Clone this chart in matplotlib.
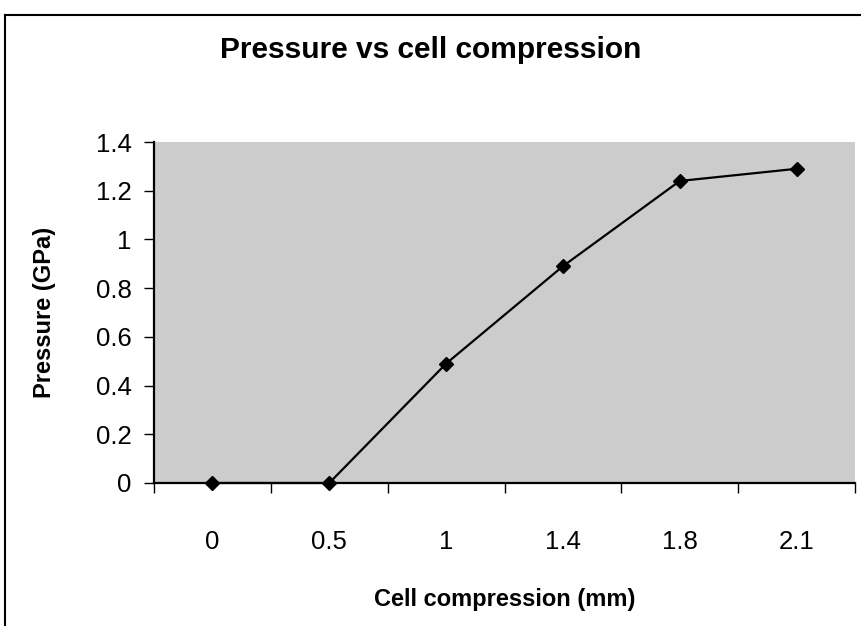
import matplotlib
matplotlib.use("Agg")
import matplotlib.pyplot as plt
from matplotlib.lines import Line2D

# data
compression_labels = ["0", "0.5", "1", "1.4", "1.8", "2.1"]
pressure_gpa = [0, 0, 0.49, 0.89, 1.24, 1.29]
y_ticks = [0, 0.2, 0.4, 0.6, 0.8, 1, 1.2, 1.4]


def main():
    plt.rcParams["font.family"] = ["Liberation Sans", "DejaVu Sans"]

    W, H = 861, 626
    fig = plt.figure(figsize=(W / 100, H / 100), dpi=100)
    fig.patch.set_facecolor("white")

    # plot area in pixel coords of the reference
    left, right, top, bottom = 154, 855, 142, 483
    ax = fig.add_axes([left / W, 1 - bottom / H, (right - left) / W, (bottom - top) / H])
    ax.set_facecolor("#cccccc")

    x = list(range(len(compression_labels)))
    ax.plot(x, pressure_gpa, color="black", lw=1.6, marker="D",
            markersize=7.5, markerfacecolor="black", markeredgecolor="black",
            clip_on=False, zorder=3)

    ax.set_xlim(-0.5, len(x) - 0.5)
    ax.set_ylim(0, 1.4)

    # category axis: labels at centres, ticks between categories
    ax.set_xticks(x)
    ax.set_xticklabels(compression_labels)
    ax.set_xticks([i - 0.5 for i in range(len(x) + 1)], minor=True)
    ax.tick_params(axis="x", which="major", length=0, pad=34, labelsize=18.5)
    ax.tick_params(axis="x", which="minor", length=7, width=1, direction="out")

    ax.set_yticks(y_ticks)
    ax.set_yticklabels([f"{v:g}" for v in y_ticks])
    ax.tick_params(axis="y", length=7, width=1, direction="out", pad=9, labelsize=18.5)

    for side in ("top", "right"):
        ax.spines[side].set_visible(False)
    for side in ("left", "bottom"):
        ax.spines[side].set_linewidth(1.6)

    ax.set_xlabel("Cell compression (mm)", fontsize=17, fontweight="bold", labelpad=24)
    ax.set_ylabel("Pressure (GPa)", fontsize=17, fontweight="bold", labelpad=29)

    fig.text(431 / W, 1 - 50 / H, "Pressure vs cell compression",
             ha="center", va="center", fontsize=21.5, fontweight="bold")

    # outer chart border (cut off at right and bottom in the reference)
    fig.add_artist(Line2D([5 / W, 5 / W], [1 - 15 / H, 0], transform=fig.transFigure,
                          color="black", lw=1.5))
    fig.add_artist(Line2D([5 / W, 1], [1 - 15 / H, 1 - 15 / H], transform=fig.transFigure,
                          color="black", lw=1.5))

    fig.savefig("out.png", dpi=100)
    plt.close(fig)


if __name__ == "__main__":
    main()
